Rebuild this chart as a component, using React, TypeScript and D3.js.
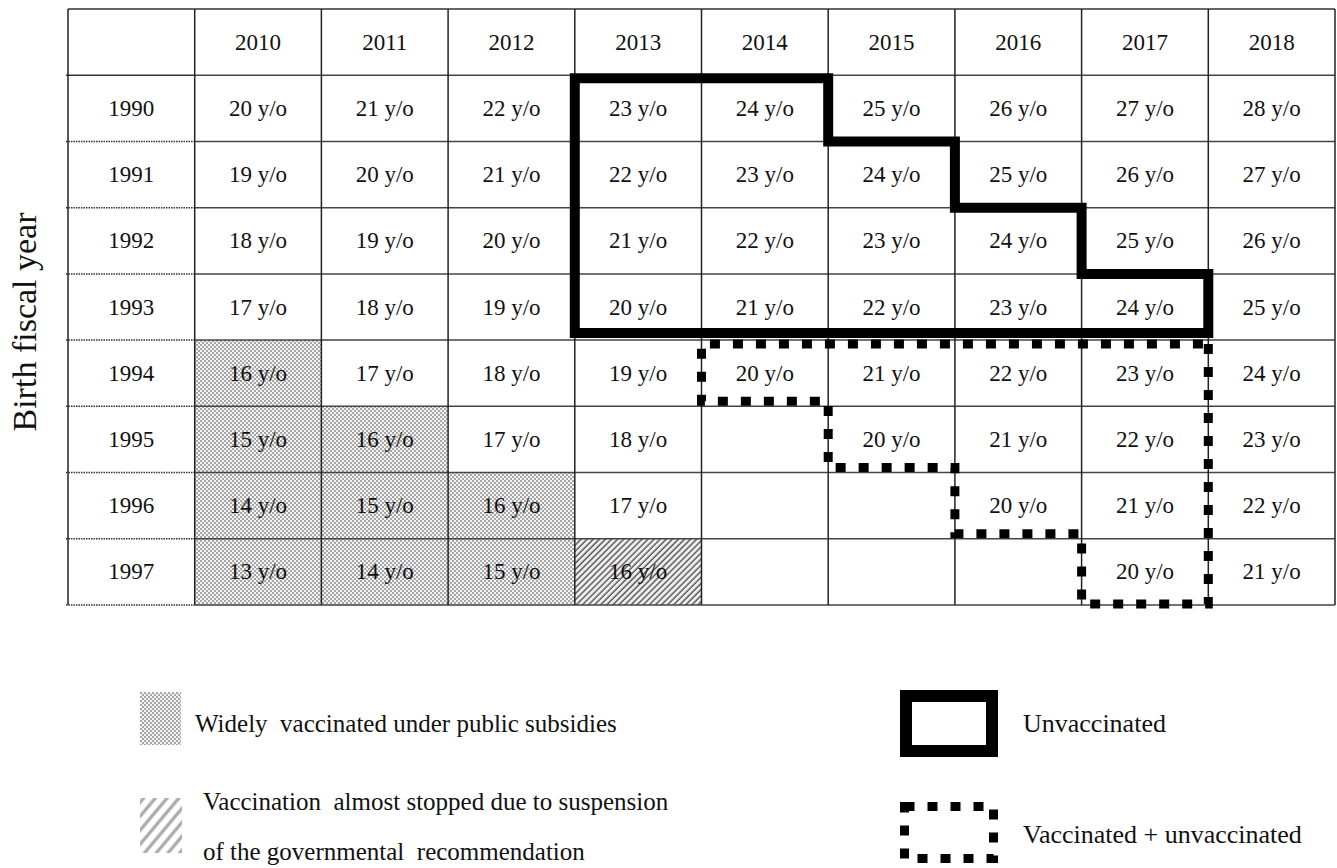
import * as d3 from "d3";

const birthYears = ["1990", "1991", "1992", "1993", "1994", "1995", "1996", "1997"];
const fiscalYears = ["2010", "2011", "2012", "2013", "2014", "2015", "2016", "2017", "2018"];

// ages shown in each cell, null = empty cell
const ages: (number | null)[][] = [
  [20, 21, 22, 23, 24, 25, 26, 27, 28],
  [19, 20, 21, 22, 23, 24, 25, 26, 27],
  [18, 19, 20, 21, 22, 23, 24, 25, 26],
  [17, 18, 19, 20, 21, 22, 23, 24, 25],
  [16, 17, 18, 19, 20, 21, 22, 23, 24],
  [15, 16, 17, 18, null, 20, 21, 22, 23],
  [14, 15, 16, 17, null, null, 20, 21, 22],
  [13, 14, 15, 16, null, null, null, 20, 21],
];

const subsidizedCells = [
  ["1994", "2010"],
  ["1995", "2010"], ["1995", "2011"],
  ["1996", "2010"], ["1996", "2011"], ["1996", "2012"],
  ["1997", "2010"], ["1997", "2011"], ["1997", "2012"],
];
const suspendedCells = [["1997", "2013"]];

// [birth year, first fiscal year, last fiscal year]
const unvaccinatedSpans = [
  ["1990", "2013", "2014"],
  ["1991", "2013", "2015"],
  ["1992", "2013", "2016"],
  ["1993", "2013", "2017"],
];
const mixedSpans = [
  ["1994", "2014", "2017"],
  ["1995", "2015", "2017"],
  ["1996", "2016", "2017"],
  ["1997", "2017", "2017"],
];

const W = 1337;
const H = 868;
const serif = "'Liberation Serif', 'Times New Roman', serif";

const x = d3.scaleBand<string>().domain(["label", ...fiscalYears]).range([68, 1335]);
const y = d3.scaleBand<string>().domain(["header", ...birthYears]).range([9, 605]);
const bw = x.bandwidth();
const bh = y.bandwidth();

// staircase outline around a set of row spans, with small hand-drawn offsets
function stairPath(spans: string[][], topOff: number, bottomOff: number, stepOff: number) {
  const first = y(spans[0][0])!;
  const last = y(spans[spans.length - 1][0])! + bh;
  const right = spans.flatMap(([r, , e]) => [
    [x(e)! + bw, y(r)!],
    [x(e)! + bw, y(r)! + bh],
  ]);
  const left = spans
    .slice()
    .reverse()
    .flatMap(([r, s]) => [
      [x(s)!, y(r)! + bh],
      [x(s)!, y(r)!],
    ]);
  const pts = [...right, ...left].map(([px, py]) => [
    px,
    py === first ? py + topOff : py === last ? py + bottomOff : py + stepOff,
  ]) as [number, number][];
  return d3.line()(pts) + "Z";
}

export default function App() {
  return (
    <div style={{ position: "absolute", left: 0, top: 0 }}>
      <svg width={W} height={H} style={{ display: "block", background: "#fff" }}>
        <defs>
          <pattern id="dots" width={4} height={4} patternUnits="userSpaceOnUse">
            <rect width={4} height={4} fill="#f3f3f3" />
            <circle cx={1} cy={1} r={0.8} fill="#444" />
            <circle cx={3} cy={3} r={0.8} fill="#444" />
          </pattern>
          <pattern id="hatch" width={4.3} height={4.3} patternUnits="userSpaceOnUse" patternTransform="rotate(45)">
            <rect width={4.3} height={4.3} fill="#eeeeee" />
            <line x1={1} y1={0} x2={1} y2={4.3} stroke="#3a3a3a" strokeWidth={1.2} />
          </pattern>
          <pattern id="hatchLegend" width={9} height={9} patternUnits="userSpaceOnUse" patternTransform="rotate(40)">
            <line x1={2} y1={0} x2={2} y2={9} stroke="#a8a8a8" strokeWidth={3.2} />
          </pattern>
        </defs>

        {/* shaded cells */}
        {subsidizedCells.map(([r, c]) => (
          <rect key={`s${r}${c}`} x={x(c)} y={y(r)} width={bw} height={bh} fill="url(#dots)" />
        ))}
        {suspendedCells.map(([r, c]) => (
          <rect key={`h${r}${c}`} x={x(c)} y={y(r)} width={bw} height={bh} fill="url(#hatch)" />
        ))}

        {/* horizontal grid lines */}
        {y.domain().map((r, i) => {
          const yy = y(r)! + bh;
          const dotted = i > 0;
          return (
            <g key={`h${r}`}>
              <line x1={x("label")! - 2} x2={x("label")! + bw} y1={yy} y2={yy}
                stroke="#333" strokeWidth={1.5} strokeDasharray={dotted ? "1.5,1" : undefined} />
              <line x1={x(fiscalYears[0])} x2={x.range()[1]} y1={yy} y2={yy} stroke="#444" strokeWidth={1.5} />
            </g>
          );
        })}
        <line x1={x.range()[0]} x2={x.range()[1]} y1={y.range()[0]} y2={y.range()[0]} stroke="#333" strokeWidth={1.5} />

        {/* vertical grid lines */}
        {[...x.domain().map((c) => x(c)!), x.range()[1]].map((xx, i) => (
          <line key={`v${i}`} x1={xx} x2={xx} y1={y.range()[0]} y2={y.range()[1]} stroke="#222" strokeWidth={1.5} />
        ))}

        {/* header */}
        {fiscalYears.map((c) => (
          <text key={`c${c}`} x={x(c)! + bw / 2} y={y("header")! + bh / 2} textAnchor="middle"
            dominantBaseline="central" fontFamily={serif} fontSize={23} fill="#111">{c}</text>
        ))}
        {birthYears.map((r) => (
          <text key={`r${r}`} x={x("label")! + bw / 2} y={y(r)! + bh / 2} textAnchor="middle"
            dominantBaseline="central" fontFamily={serif} fontSize={23} fill="#111">{r}</text>
        ))}

        {/* ages */}
        {birthYears.map((r, ri) =>
          fiscalYears.map((c, ci) =>
            ages[ri][ci] == null ? null : (
              <text key={`a${r}${c}`} x={x(c)! + bw / 2} y={y(r)! + bh / 2} textAnchor="middle"
                dominantBaseline="central" fontFamily={serif} fontSize={23} fill="#111">
                {`${ages[ri][ci]} y/o`}
              </text>
            )
          )
        )}

        {/* outlines */}
        <path d={stairPath(unvaccinatedSpans, 3, -7, 0)} fill="none" stroke="#000" strokeWidth={10} strokeLinejoin="miter" />
        <path d={stairPath(mixedSpans, 4, -1, -5)} fill="none" stroke="#000" strokeWidth={9} strokeDasharray="10,13" />

        {/* y axis title */}
        <text transform={`translate(36,${(y.range()[0] + y.range()[1]) / 2 + 15}) rotate(-90)`} textAnchor="middle"
          fontFamily={serif} fontSize={34} fill="#111">Birth fiscal year</text>

        {/* legend */}
        <rect x={140} y={692} width={41} height={53} fill="url(#dots)" />
        <text x={195} y={732} fontFamily={serif} fontSize={25} fill="#111" style={{ whiteSpace: "pre" }}>
          Widely  vaccinated under public subsidies
        </text>
        <rect x={140} y={798} width={42} height={55} fill="url(#hatchLegend)" />
        <text x={203} y={810} fontFamily={serif} fontSize={25} fill="#111" style={{ whiteSpace: "pre" }}>
          Vaccination  almost stopped due to suspension
        </text>
        <text x={203} y={860} fontFamily={serif} fontSize={25} fill="#111" style={{ whiteSpace: "pre" }}>
          of the governmental  recommendation
        </text>

        <rect x={906} y={696} width={86} height={55} fill="none" stroke="#000" strokeWidth={12} />
        <text x={1023} y={732} fontFamily={serif} fontSize={26} fill="#111">Unvaccinated</text>
        <rect x={904.5} y={806.5} width={89} height={52} fill="none" stroke="#000" strokeWidth={9} strokeDasharray="10,13" />
        <text x={1023} y={843} fontFamily={serif} fontSize={26} fill="#111">Vaccinated + unvaccinated</text>
      </svg>
    </div>
  );
}
